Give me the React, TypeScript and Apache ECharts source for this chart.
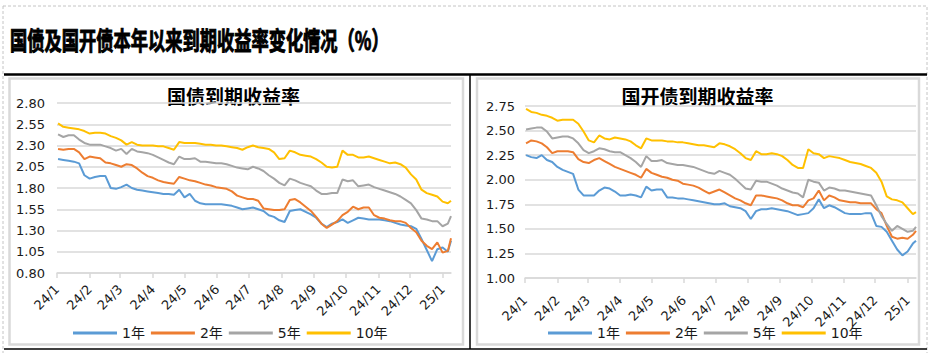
import React, { useEffect, useRef } from "react";
import * as echarts from "echarts";

// x positions: days since 2024-01-01
const monthStartDays = [0, 31, 60, 91, 121, 152, 182, 213, 244, 274, 305, 335, 366];
const monthLabels = ["24/1", "24/2", "24/3", "24/4", "24/5", "24/6", "24/7", "24/8", "24/9", "24/10", "24/11", "24/12", "25/1"];
const sampleDays = [
  1, 6, 11, 16, 21, 26, 31, 36, 41, 46, 51, 56, 61, 66, 71, 76, 81, 86, 91, 96,
  101, 106, 111, 116, 121, 126, 131, 136, 141, 146, 151, 156, 161, 166, 171, 176, 181, 186, 191, 196,
  201, 206, 211, 216, 221, 226, 231, 236, 241, 246, 251, 256, 261, 266, 271, 276, 281, 286, 291, 296,
  301, 306, 311, 316, 321, 326, 331, 336, 341, 346, 351, 356, 361, 366, 371, 374,
];

const seriesNames = ["1年", "2年", "5年", "10年"];
const seriesColors = ["#5B9BD5", "#ED7D31", "#A5A5A5", "#FFC000"];

// 国债到期收益率
const cgb1y = [
  2.14, 2.13, 2.12, 2.11, 2.09, 1.95, 1.91, 1.93, 1.94, 1.94,
  1.80, 1.79, 1.81, 1.84, 1.80, 1.78, 1.77, 1.76, 1.75, 1.74,
  1.73, 1.73, 1.72, 1.78, 1.69, 1.73, 1.65, 1.62, 1.61, 1.61,
  1.61, 1.61, 1.60, 1.59, 1.57, 1.55, 1.56, 1.57, 1.55, 1.53,
  1.48, 1.46, 1.42, 1.40, 1.53, 1.54, 1.55, 1.52, 1.49, 1.45,
  1.38, 1.34, 1.38, 1.40, 1.43, 1.39, 1.42, 1.45, 1.44, 1.43,
  1.43, 1.43, 1.42, 1.41, 1.39, 1.37, 1.36, 1.35, 1.32, 1.20,
  1.07, 0.94, 1.08, 1.10, 1.05, 1.18,
];
const cgb2y = [
  2.26, 2.25, 2.26, 2.26, 2.22, 2.14, 2.17, 2.16, 2.15, 2.10,
  2.09, 2.07, 2.05, 2.08, 2.07, 2.03, 1.98, 1.94, 1.92, 1.89,
  1.87, 1.86, 1.85, 1.93, 1.91, 1.89, 1.88, 1.86, 1.84, 1.83,
  1.81, 1.80, 1.79, 1.76, 1.71, 1.69, 1.67, 1.67, 1.65, 1.56,
  1.55, 1.54, 1.54, 1.55, 1.66, 1.67, 1.63, 1.58, 1.53, 1.46,
  1.38, 1.33, 1.37, 1.41, 1.48, 1.52, 1.58, 1.55, 1.57, 1.57,
  1.48, 1.45, 1.44, 1.42, 1.41, 1.41, 1.39, 1.33, 1.28, 1.18,
  1.12, 1.08, 1.16, 1.04, 1.06, 1.21,
];
const cgb5y = [
  2.43, 2.40, 2.42, 2.42, 2.37, 2.33, 2.31, 2.31, 2.31, 2.29,
  2.27, 2.24, 2.26, 2.20, 2.26, 2.23, 2.22, 2.21, 2.19, 2.16,
  2.13, 2.10, 2.08, 2.17, 2.14, 2.14, 2.15, 2.11, 2.11, 2.10,
  2.09, 2.09, 2.08, 2.06, 2.04, 2.03, 2.02, 2.05, 2.03, 2.00,
  1.95, 1.91, 1.86, 1.83, 1.91, 1.89, 1.86, 1.84, 1.82, 1.77,
  1.73, 1.73, 1.74, 1.74, 1.90, 1.88, 1.89, 1.82, 1.83, 1.84,
  1.81, 1.79, 1.77, 1.75, 1.73, 1.70, 1.66, 1.62, 1.54, 1.44,
  1.43, 1.41, 1.41, 1.35, 1.38, 1.47,
];
const cgb10y = [
  2.56, 2.52, 2.51, 2.50, 2.49, 2.47, 2.44, 2.45, 2.45, 2.44,
  2.41, 2.39, 2.36, 2.31, 2.34, 2.31, 2.30, 2.30, 2.30, 2.29,
  2.29, 2.27, 2.25, 2.34, 2.33, 2.33, 2.33, 2.32, 2.31, 2.31,
  2.30, 2.30, 2.29, 2.28, 2.27, 2.25, 2.28, 2.30, 2.28, 2.27,
  2.26, 2.22, 2.14, 2.15, 2.24, 2.22, 2.19, 2.18, 2.17, 2.14,
  2.10, 2.05, 2.04, 2.05, 2.24, 2.19, 2.19, 2.16, 2.16, 2.17,
  2.15, 2.13, 2.11, 2.09, 2.10, 2.08, 2.04, 1.96, 1.90, 1.78,
  1.74, 1.72, 1.70, 1.64, 1.62, 1.65,
];

// 国开债到期收益率
const cdb1y = [
  2.25, 2.23, 2.22, 2.25, 2.20, 2.18, 2.13, 2.10, 2.08, 2.06,
  1.90, 1.84, 1.84, 1.84, 1.89, 1.92, 1.91, 1.88, 1.84, 1.84,
  1.85, 1.84, 1.82, 1.93, 1.89, 1.90, 1.90, 1.82, 1.82, 1.81,
  1.81, 1.80, 1.79, 1.78, 1.77, 1.76, 1.75, 1.75, 1.76, 1.73,
  1.72, 1.71, 1.68, 1.60, 1.68, 1.70, 1.70, 1.71, 1.70, 1.69,
  1.68, 1.66, 1.64, 1.65, 1.66, 1.71, 1.80, 1.71, 1.74, 1.72,
  1.69, 1.66, 1.65, 1.65, 1.65, 1.66, 1.66, 1.53, 1.52, 1.47,
  1.38, 1.29, 1.23, 1.27, 1.35, 1.38,
];
const cdb2y = [
  2.37, 2.40, 2.39, 2.37, 2.33, 2.27, 2.29, 2.29, 2.29, 2.28,
  2.21, 2.18, 2.17, 2.20, 2.22, 2.19, 2.16, 2.13, 2.11, 2.09,
  2.07, 2.05, 2.02, 2.11, 2.07, 2.05, 2.03, 2.02, 2.00, 1.99,
  1.96, 1.95, 1.94, 1.92, 1.89, 1.86, 1.88, 1.90, 1.87, 1.84,
  1.81, 1.79, 1.76, 1.74, 1.84, 1.84, 1.83, 1.82, 1.81, 1.79,
  1.76, 1.74, 1.74, 1.72, 1.79, 1.81, 1.89, 1.79, 1.84, 1.82,
  1.79, 1.78, 1.77, 1.77, 1.76, 1.76, 1.76, 1.70, 1.66, 1.53,
  1.42, 1.40, 1.41, 1.40, 1.44, 1.48,
];
const cdb5y = [
  2.51, 2.52, 2.53, 2.53, 2.49, 2.42, 2.43, 2.44, 2.44, 2.42,
  2.37, 2.30, 2.27, 2.29, 2.32, 2.31, 2.29, 2.28, 2.28, 2.25,
  2.22, 2.18, 2.13, 2.24, 2.19, 2.19, 2.20, 2.17, 2.16, 2.15,
  2.15, 2.14, 2.13, 2.11, 2.09, 2.07, 2.06, 2.09, 2.07, 2.05,
  2.01, 1.96, 1.91, 1.90, 1.99, 1.98, 1.98, 1.96, 1.94, 1.91,
  1.89, 1.87, 1.86, 1.82, 2.00, 1.98, 1.97, 1.89, 1.92, 1.91,
  1.89, 1.89, 1.88, 1.87, 1.86, 1.85, 1.84, 1.74, 1.63, 1.55,
  1.48, 1.53, 1.50, 1.47, 1.48, 1.52,
];
const cdb10y = [
  2.72, 2.69, 2.68, 2.66, 2.65, 2.63, 2.60, 2.61, 2.61, 2.61,
  2.57, 2.49, 2.40, 2.38, 2.45, 2.42, 2.41, 2.43, 2.42, 2.41,
  2.39, 2.35, 2.32, 2.42, 2.40, 2.40, 2.40, 2.39, 2.39, 2.38,
  2.38, 2.37, 2.36, 2.35, 2.35, 2.34, 2.33, 2.37, 2.36, 2.34,
  2.31, 2.27, 2.22, 2.20, 2.29, 2.26, 2.26, 2.27, 2.26, 2.24,
  2.20, 2.15, 2.12, 2.12, 2.31, 2.27, 2.26, 2.22, 2.24, 2.23,
  2.22, 2.20, 2.18, 2.17, 2.16, 2.14, 2.12, 2.07, 1.98, 1.83,
  1.80, 1.79, 1.77, 1.71, 1.65, 1.67,
];

const leftYTicks = [0.8, 1.05, 1.3, 1.55, 1.8, 2.05, 2.3, 2.55, 2.8];
const rightYTicks = [1.0, 1.25, 1.5, 1.75, 2.0, 2.25, 2.5, 2.75];

const mainTitle = "国债及国开债本年以来到期收益率变化情况（%）";
const leftTitle = "国债到期收益率";
const rightTitle = "国开债到期收益率";

const FONT = "'DejaVu Sans', 'Noto Sans CJK SC', sans-serif";
const CJK = "'Noto Sans CJK SC', 'Noto Sans', sans-serif";
const GRID_GRAY = "#d9d9d9";
const TEXT = "#1a1a1a";

export default function App() {
  const ref = useRef<HTMLDivElement>(null);

  useEffect(() => {
    if (!ref.current) return;
    const chart = echarts.init(ref.current, undefined, { renderer: "svg" });

    // left axis ticks start at 0.80 with step 0.25: shift so the ticks fall on multiples of the interval
    const leftStep = leftYTicks[1] - leftYTicks[0];
    const leftOffset = +(leftYTicks[0] - Math.floor(leftYTicks[0] / leftStep) * leftStep).toFixed(4);
    const rightStep = rightYTicks[1] - rightYTicks[0];

    const pairs = (vals: number[], shift: number) =>
      sampleDays.map((d, i) => [d, +(vals[i] - shift).toFixed(4)]);

    const xAxisCfg = (gridIndex: number, margin: number) => ({
      type: "value",
      gridIndex,
      min: 0,
      max: sampleDays[sampleDays.length - 1],
      axisLine: { show: true, onZero: false, lineStyle: { color: GRID_GRAY, width: 1.5 } },
      axisTick: {
        show: true,
        customValues: monthStartDays,
        length: 5,
        lineStyle: { color: GRID_GRAY, width: 1.5 },
      },
      axisLabel: {
        show: true,
        customValues: monthStartDays,
        rotate: 45,
        margin,
        fontSize: 13,
        color: TEXT,
        fontFamily: FONT,
        formatter: (v: number) => {
          const idx = monthStartDays.indexOf(Math.round(v));
          return idx >= 0 ? monthLabels[idx] : "";
        },
      },
      splitLine: { show: false },
    });

    const yAxisCfg = (gridIndex: number, ticks: number[], step: number, offset: number, margin: number) => ({
      type: "value",
      gridIndex,
      min: ticks[0] - offset,
      max: ticks[ticks.length - 1] - offset,
      interval: step,
      axisLine: { show: false },
      axisTick: { show: false },
      axisLabel: {
        margin,
        fontSize: 13,
        color: TEXT,
        fontFamily: FONT,
        formatter: (v: number) => (v + offset).toFixed(2),
      },
      splitLine: { show: true, lineStyle: { color: GRID_GRAY, width: 1.5 } },
    });

    const leftData = [cgb1y, cgb2y, cgb5y, cgb10y];
    const rightData = [cdb1y, cdb2y, cdb5y, cdb10y];

    const series: any[] = [];
    leftData.forEach((vals, i) =>
      series.push({
        name: seriesNames[i],
        type: "line",
        xAxisIndex: 0,
        yAxisIndex: 0,
        data: pairs(vals, leftOffset),
        showSymbol: false,
        symbol: "none",
        lineStyle: { color: seriesColors[i], width: 2 },
        itemStyle: { color: seriesColors[i] },
      })
    );
    rightData.forEach((vals, i) =>
      series.push({
        name: seriesNames[i],
        type: "line",
        xAxisIndex: 1,
        yAxisIndex: 1,
        data: pairs(vals, 0),
        showSymbol: false,
        symbol: "none",
        lineStyle: { color: seriesColors[i], width: 2 },
        itemStyle: { color: seriesColors[i] },
      })
    );

    const legendCfg = (left: number) => ({
      left,
      top: 321,
      icon: "rect",
      itemWidth: 44,
      itemHeight: 3,
      itemGap: 6,
      data: seriesNames,
      textStyle: { fontSize: 14, color: TEXT, fontFamily: FONT },
      selectedMode: false,
    });

    chart.setOption({
      animation: false,
      backgroundColor: "#ffffff",
      grid: [
        { left: 57, right: 482, top: 103, bottom: 80, containLabel: false },
        { left: 525, right: 17, top: 106, bottom: 75, containLabel: false },
      ],
      xAxis: [xAxisCfg(0, 14), xAxisCfg(1, 20)],
      yAxis: [
        yAxisCfg(0, leftYTicks, leftStep, leftOffset, 12),
        yAxisCfg(1, rightYTicks, rightStep, 0, 10),
      ],
      legend: [legendCfg(68), legendCfg(543)],
      series,
      graphic: [
        {
          type: "rect",
          z: -1,
          shape: { x: 3, y: 6, width: 924, height: 350 },
          style: { fill: "none", stroke: "#c4c4c4", lineWidth: 1, lineDash: [3, 2] },
        },
        {
          type: "text",
          x: 10,
          y: 38.5,
          scaleX: 0.69,
          style: {
            text: mainTitle,
            fontSize: 25,
            fontWeight: "bold",
            fontFamily: CJK,
            fill: "#000000",
            stroke: "#000000",
            lineWidth: 1,
            align: "left",
            verticalAlign: "middle",
          },
        },
        {
          type: "line",
          shape: { x1: 4, y1: 74.5, x2: 927, y2: 74.5 },
          style: { stroke: "#000000", lineWidth: 2.5 },
        },
        {
          type: "line",
          shape: { x1: 470, y1: 74.5, x2: 470, y2: 349 },
          style: { stroke: "#000000", lineWidth: 1.5 },
        },
        {
          type: "line",
          shape: { x1: 4, y1: 349, x2: 927, y2: 349 },
          style: { stroke: "#000000", lineWidth: 1.5 },
        },
        {
          type: "rect",
          z: -1,
          shape: { x: 9.5, y: 78.5, width: 453.5, height: 266 },
          style: { fill: "none", stroke: GRID_GRAY, lineWidth: 2.5 },
        },
        {
          type: "rect",
          z: -1,
          shape: { x: 477, y: 78.5, width: 442, height: 266 },
          style: { fill: "none", stroke: GRID_GRAY, lineWidth: 2.5 },
        },
        {
          type: "text",
          x: 233.5,
          y: 95,
          style: {
            text: leftTitle,
            fontSize: 19,
            fontWeight: "bold",
            fontFamily: CJK,
            fill: "#000000",
            align: "center",
            verticalAlign: "middle",
          },
        },
        {
          type: "text",
          x: 697.5,
          y: 95,
          style: {
            text: rightTitle,
            fontSize: 19,
            fontWeight: "bold",
            fontFamily: CJK,
            fill: "#000000",
            align: "center",
            verticalAlign: "middle",
          },
        },
      ],
    });

    return () => chart.dispose();
  }, []);

  return (
    <div
      ref={ref}
      style={{ position: "absolute", left: 0, top: 0, width: 933, height: 353, background: "#ffffff" }}
    />
  );
}
